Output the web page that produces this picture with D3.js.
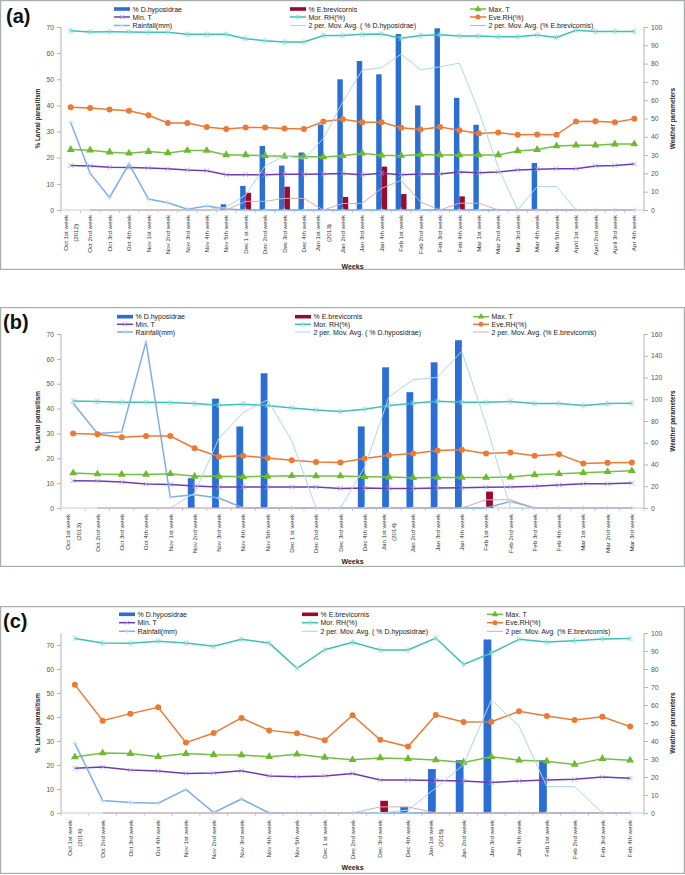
<!DOCTYPE html>
<html>
<head>
<meta charset="utf-8">
<script src="https://cdn.jsdelivr.net/npm/d3@7"></script>
<style>
  body { margin: 0; background: #fff; }
  svg { display: block; }
  text { font-family: "Liberation Sans", Arial, sans-serif; }
</style>
</head>
<body>
<div id="chart"></div>
<script>
// ---- panel (a) : Oct 2012 - Apr 2013 ----
const weeksA = ['Oct 1st week\n(2012)', 'Oct 2nd week', 'Oct 3rd week', 'Oct 4th week', 'Nov 1st week',
  'Nov 2nd week', 'Nov 3rd week', 'Nov 4th week', 'Nov 5th week', 'Dec 1 st week', 'Dec 2nd week',
  'Dec 3rd week', 'Dec 4th week', 'Jan 1st week\n(2013)', 'Jan 2nd week', 'Jan 3rd week', 'Jan 4th week',
  'Feb 1st week', 'Feb 2nd week', 'Feb 3rd week', 'Feb 4th week', 'Mar 1st week', 'Mar 2nd week',
  'Mar 3rd week', 'Mar 4th week', 'Mar 5th week', 'April 1st week', 'April 2nd week', 'April 3rd week',
  'Apr 4th week'];
const dhypA = [0, 0, 0, 0, 0, 0, 0, 0, 2.2, 9.2, 24.5, 17, 22, 32.7, 50, 57, 51.9, 67.3, 40, 69.5, 42.9,
  32.6, 0, 0, 18, 0, 0, 0, 0, 0];
const ebrevA = [0, 0, 0, 0, 0, 0, 0, 0, 0, 6.6, 0, 8.9, 0, 0, 5, 0, 16.6, 6.1, 0, 0, 5.2, 0, 0, 0, 0, 0,
  0, 0, 0, 0];
const minTA = [24.3, 24.1, 23.4, 23.2, 23, 22.6, 21.9, 21.5, 19.3, 19.3, 19.3, 19.5, 19.5, 19.7, 20, 19.3,
  20.1, 19.3, 19.7, 19.7, 20.8, 20.4, 20.8, 21.9, 22.3, 22.6, 22.6, 24.1, 24.3, 25.2];
const maxTA = [33, 32.7, 31.6, 31, 31.9, 31.2, 32.5, 32.5, 30.1, 30.1, 29.6, 29.4, 29.2, 29, 29.6, 31,
  29.9, 29.7, 30.3, 30.1, 30.1, 30.1, 30.1, 32.3, 33, 35, 35.4, 35.4, 36, 36.1];
const morRHA = [98, 97.3, 97.4, 97.3, 97.1, 97.1, 96, 96, 96, 93.6, 92.5, 91.8, 91.8, 95.4, 95.4, 96,
  96.2, 93.8, 95.4, 95.8, 95.1, 95.1, 94.7, 94.7, 95.6, 94.3, 98.2, 97.6, 97.6, 97.6];
const eveRHA = [56.2, 55.7, 54.9, 54.2, 51.8, 47.6, 47.6, 45.3, 44.2, 45.1, 45.1, 44.5, 44.2, 48.4, 49.6,
  48, 48, 44.9, 44, 45.4, 43.6, 41.8, 42.3, 41.1, 41.2, 41.1, 48.4, 48.5, 48, 49.8];
const rainA = [47.8, 20, 6.9, 25.2, 6, 4, 0.4, 2.2, 0.5, 0, 0, 0, 0, 0, 0, 0, 0, 0, 0, 0, 0, 0, 0, 0, 0,
  0, 0, 0, 0, 0];

// ---- panel (b) : Oct 2013 - Mar 2014 ----
const weeksB = ['Oct 1st week\n(2013)', 'Oct 2nd week', 'Oct 3rd week', 'Oct 4th week', 'Nov 1st week',
  'Nov 2nd week', 'Nov 3rd week', 'Nov 4th week', 'Nov 5th week', 'Dec 1 st week', 'Dec 2nd week',
  'Dec 3rd week', 'Dec 4th week', 'Jan 1st week\n(2014)', 'Jan 2nd week', 'Jan 3rd week', 'Jan 4th week',
  'Feb 1st week', 'Feb 2nd week', 'Feb 3rd week', 'Feb 4th week', 'Mar 1st week', 'Mar 2nd week',
  'Mar 3rd week'];
const dhypB = [0, 0, 0, 0, 0, 12, 44, 32.8, 54.2, 0, 0, 0, 32.8, 56.6, 46.6, 58.6, 67.5, 0, 0, 0, 0, 0,
  0, 0];
const ebrevB = [0, 0, 0, 0, 0, 0, 0, 0, 0, 0, 0, 0, 0, 0, 0, 0, 0, 6.6, 0, 0, 0, 0, 0, 0];
const minTB = [25.1, 24.8, 23.9, 22, 21.7, 20.2, 19.3, 19.3, 19.3, 19.3, 19.3, 18, 18.3, 18, 18, 18.3,
  18.7, 19, 19.3, 19.9, 21.1, 22.3, 22.3, 22.9];
const maxTB = [32.1, 31.2, 30.9, 30.9, 31.5, 29.1, 29.1, 28.7, 29.1, 29.7, 29.4, 29.4, 28.7, 28.4, 27.8,
  28.1, 28.1, 28.1, 28.4, 30.6, 31.5, 32.4, 33.3, 34.3];
const morRHB = [98.5, 97.9, 97.2, 97.2, 96.9, 96, 94.5, 95.4, 94.2, 92, 90.2, 88.7, 90.8, 94.2, 96.3,
  98.2, 97.2, 97.2, 97.9, 96, 96, 94.2, 96, 96.3];
const eveRHB = [68.5, 67.9, 65.1, 66.1, 66.1, 55, 47.1, 48, 45.9, 44, 42.2, 41.9, 45.6, 48.6, 50.2, 52.9,
  53.5, 50.2, 51.1, 48, 49.5, 41, 41.6, 41.9];
const rainB = [96.3, 68.5, 70, 152.9, 10.1, 12.2, 9.2, 0, 0, 0, 0, 0, 0, 0, 0, 0, 0, 0, 6.1, 0, 0, 0, 0, 0];

// ---- panel (c) : Oct 2014 - Feb 2015 ----
const weeksC = ['Oct 1st week\n(2014)', 'Oct 2nd week', 'Oct 3rd week', 'Oct 4th week', 'Nov 1st week',
  'Nov 2nd week', 'Nov 3rd week', 'Nov 4th week', 'Nov 5th week', 'Dec 1 st week', 'Dec 2nd week',
  'Dec 3rd week', 'Dec 4th week', 'Jan 1st week\n(2015)', 'Jan 2nd week', 'Jan 3rd week', 'Jan 4th week',
  'Feb 1st week', 'Feb 2nd week', 'Feb 3rd week', 'Feb 4th week'];
const dhypC = [0, 0, 0, 0, 0, 0, 0, 0, 0, 0, 0, 0, 2.5, 18.3, 22, 72.3, 0, 22.1, 0, 0, 0];
const ebrevC = [0, 0, 0, 0, 0, 0, 0, 0, 0, 0, 0, 5.1, 0, 0, 0, 0, 0, 0, 0, 0, 0];
const minTC = [24.8, 25.6, 23.9, 23.3, 22, 22.2, 23.5, 20.6, 20.2, 20.6, 22, 18.3, 18.3, 18.1, 17.8, 16.9,
  17.8, 18.3, 18.7, 20, 19.3];
const maxTC = [31.1, 33.3, 33, 31.3, 33, 32.4, 32.2, 31.3, 32.6, 30.9, 29.6, 30.6, 30.2, 29.4, 28.1, 31.3,
  29.3, 28.7, 27, 30.2, 29.3];
const morRHC = [97, 94.4, 94.3, 95.4, 94.4, 92.6, 96.5, 94.4, 80.4, 90.7, 94.8, 90.6, 90.6, 97.2, 82.6,
  88.9, 96.5, 95, 95.7, 96.7, 96.9];
const eveRHC = [71.3, 51.3, 55.2, 58.7, 39.1, 44.4, 52.8, 45.9, 44.3, 40.4, 54.3, 40.7, 36.9, 54.4, 50.6,
  50.7, 56.5, 53.9, 51.7, 53.5, 48];
const rainC = [38.7, 6.9, 5.9, 5.4, 13.1, 0.2, 7.8, 0, 0, 0, 0, 0, 0, 0, 0, 0, 0, 0, 0, 0, 0];

const leftTicks = [0, 10, 20, 30, 40, 50, 60, 70];

const colors = {
  dhyp: '#2b6fd4',
  ebrev: '#990b2c',
  minT: '#6a3db5',
  morRH: '#3ec1b6',
  maxT: '#74c043',
  eveRH: '#ec7a34',
  rain: '#7daee8',
  avgD: '#acd6f2',
  avgE: '#dcaaad'
};

const svg = d3.select('#chart')
  .append('svg')
  .attr('width', 685)
  .attr('height', 875);

// 2 period moving average, as the spreadsheet trendline does it
const movAvg = (arr) => d3.pairs(arr, (a, b) => (a + b) / 2);

const markerPath = {
  cross: (s) => `M${-s},${-s}L${s},${s}M${-s},${s}L${s},${-s}`,
  plus: (s) => `M${-s},0L${s},0M0,${-s}L0,${s}`,
  star: (s) => `M${-s},${-s}L${s},${s}M${-s},${s}L${s},${-s}M0,${-s * 1.3}L0,${s * 1.3}`
};

const drawMarker = (sel, type, color, size) => {
  if (type === 'circle') {
    sel.append('circle').attr('r', size).attr('fill', color);
  } else if (type === 'triangle') {
    sel.append('path')
      .attr('d', d3.symbol().type(d3.symbolTriangle).size(size * size * 3)())
      .attr('fill', color);
  } else if (type) {
    sel.append('path')
      .attr('d', markerPath[type](size))
      .attr('stroke', color)
      .attr('stroke-width', 0.8)
      .attr('fill', 'none');
  }
};

const drawPanel = (p) => {
  const g = svg.append('g');
  const n = p.weeks.length;

  // frame
  g.append('rect')
    .attr('x', 0.6)
    .attr('y', p.frame[0] + 0.6)
    .attr('width', 683.8)
    .attr('height', p.frame[1] - p.frame[0] - 1.2)
    .attr('fill', 'none')
    .attr('stroke', '#a7afaf')
    .attr('stroke-width', 1.2);

  g.append('text')
    .attr('x', p.tag[0])
    .attr('y', p.tag[1])
    .attr('font-size', 20)
    .attr('font-weight', 'bold')
    .attr('fill', '#111')
    .text(p.label);

  const xb = d3.scaleBand().domain(d3.range(n)).range([61, 644]);
  const bw = xb.bandwidth();
  const cx = (i) => xb(i) + bw / 2;
  const yL = d3.scaleLinear().domain([0, p.leftMax]).range([p.plot[1], p.plot[0]]);
  const yR = d3.scaleLinear().domain([0, p.rightMax]).range([p.plot[1], p.plot[0]]);

  // axes
  const axisColor = '#b4b4b4';
  const left = g.append('g').attr('transform', 'translate(61,0)')
    .call(d3.axisLeft(yL).tickValues(leftTicks).tickSize(4).tickPadding(3));
  const right = g.append('g').attr('transform', 'translate(644,0)')
    .call(d3.axisRight(yR).tickValues(d3.range(0, p.rightMax + 1, p.rightStep)).tickSize(4).tickPadding(3));
  [left, right].forEach((ax) => {
    ax.select('.domain').attr('stroke', axisColor);
    ax.selectAll('.tick line').attr('stroke', axisColor);
    ax.selectAll('.tick text').attr('font-size', 6.8).attr('fill', '#555')
      .attr('font-family', '"Liberation Sans", Arial, sans-serif');
  });
  left.select('.domain').attr('d', `M0,${p.plot[0]}V${p.plot[1]}`);
  right.select('.domain').attr('d', `M0,${p.plot[0]}V${p.plot[1]}`);

  g.append('line')
    .attr('x1', 61).attr('x2', 644)
    .attr('y1', p.plot[1]).attr('y2', p.plot[1])
    .attr('stroke', '#c6cbd3');
  g.selectAll('.xtick')
    .data(d3.range(n + 1))
    .enter()
    .append('line')
    .attr('x1', (d) => 61 + d * bw).attr('x2', (d) => 61 + d * bw)
    .attr('y1', p.plot[1]).attr('y2', p.plot[1] + 3)
    .attr('stroke', '#c6cbd3');

  // week labels, rotated
  const wl = g.selectAll('.week')
    .data(p.weeks)
    .enter()
    .append('g')
    .attr('transform', (d, i) => `translate(${cx(i)},${p.plot[1] + p.labelGap}) rotate(-90)`);
  wl.each(function(d) {
    const lines = d.split('\n');
    const t = d3.select(this);
    const first = t.append('text')
      .attr('text-anchor', 'end')
      .attr('font-size', 6.2)
      .attr('fill', '#333')
      .attr('y', lines.length > 1 ? -3 : 2.2)
      .text(lines[0]);
    if (lines.length > 1) {
      const w = first.node().getComputedTextLength();
      t.append('text')
        .attr('text-anchor', 'middle')
        .attr('font-size', 6.2)
        .attr('fill', '#333')
        .attr('x', -w / 2)
        .attr('y', 7.5)
        .text(lines[1]);
    }
  });

  g.append('text')
    .attr('x', 352.5)
    .attr('y', p.weeksY)
    .attr('text-anchor', 'middle')
    .attr('font-size', 7)
    .attr('font-weight', 'bold')
    .attr('fill', '#222')
    .text('Weeks');
  const midY = (p.plot[0] + p.plot[1]) / 2;
  g.append('text')
    .attr('transform', `translate(40,${midY}) rotate(-90)`)
    .attr('text-anchor', 'middle')
    .attr('font-size', 6.4)
    .attr('font-weight', 'bold')
    .attr('fill', '#222')
    .text('% Larval parasitism');
  g.append('text')
    .attr('transform', `translate(675,${midY}) rotate(-90)`)
    .attr('text-anchor', 'middle')
    .attr('font-size', 6.4)
    .attr('font-weight', 'bold')
    .attr('fill', '#222')
    .text('Weather parameters');

  // bars
  const barW = bw * 0.28;
  g.selectAll('.bar-d')
    .data(p.dhyp)
    .enter()
    .append('rect')
    .attr('x', (d, i) => cx(i) - barW)
    .attr('y', (d) => yL(d))
    .attr('width', barW)
    .attr('height', (d) => yL(0) - yL(d))
    .attr('fill', colors.dhyp);
  g.selectAll('.bar-e')
    .data(p.ebrev)
    .enter()
    .append('rect')
    .attr('x', (d, i) => cx(i))
    .attr('y', (d) => yL(d))
    .attr('width', barW)
    .attr('height', (d) => yL(0) - yL(d))
    .attr('fill', colors.ebrev);

  // lines
  const series = [
    { values: p.minT, scale: yR, color: colors.minT, w: 1.5, marker: 'cross', mcolor: '#a79ae0', ms: 2.4 },
    { values: p.morRH, scale: yR, color: colors.morRH, w: 1.5, marker: 'star', mcolor: '#8fded6', ms: 2.4 },
    { values: p.rain, scale: yR, color: colors.rain, w: 1.5, marker: 'plus', mcolor: '#b9d5f5', ms: 2.6 },
    { values: p.maxT, scale: yR, color: colors.maxT, w: 1.5, marker: 'triangle', mcolor: '#6dba2f', ms: 3 },
    { values: p.eveRH, scale: yR, color: colors.eveRH, w: 1.5, marker: 'circle', mcolor: colors.eveRH, ms: 3 },
    { values: movAvg(p.dhyp), offset: 1, scale: yL, color: colors.avgD, w: 1 },
    { values: movAvg(p.ebrev), offset: 1, scale: yL, color: colors.avgE, w: 1 }
  ];
  series.forEach((s) => {
    const off = s.offset || 0;
    const line = d3.line()
      .x((d, i) => cx(i + off))
      .y((d) => s.scale(d));
    g.append('path')
      .attr('d', line(s.values))
      .attr('fill', 'none')
      .attr('stroke', s.color)
      .attr('stroke-width', s.w);
    if (s.marker) {
      g.selectAll(null)
        .data(s.values)
        .enter()
        .append('g')
        .attr('transform', (d, i) => `translate(${cx(i + off)},${s.scale(d)})`)
        .each(function() { drawMarker(d3.select(this), s.marker, s.mcolor, s.ms); });
    }
  });

  // legend
  const legend = [
    { name: '% D.hyposidrae', bar: colors.dhyp },
    { name: '% E.brevicornis', bar: colors.ebrev },
    { name: 'Max. T', color: colors.maxT, marker: 'triangle', mcolor: '#6dba2f', ms: 2.5 },
    { name: 'Min. T', color: colors.minT, marker: 'cross', mcolor: '#a79ae0', ms: 2 },
    { name: 'Mor. RH(%)', color: colors.morRH, marker: 'star', mcolor: '#8fded6', ms: 2 },
    { name: 'Eve.RH(%)', color: colors.eveRH, marker: 'circle', mcolor: colors.eveRH, ms: 2.5 },
    { name: 'Rainfall(mm)', color: colors.rain, marker: 'plus', mcolor: '#b9d5f5', ms: 2.2 },
    { name: '2 per. Mov. Avg. ( % D.hyposidrae)', color: colors.avgD, thin: true },
    { name: '2 per. Mov. Avg. (% E.brevicornis)', color: colors.avgE, thin: true }
  ];
  legend.forEach((d, i) => {
    const col = i % 3;
    const row = Math.floor(i / 3);
    const x0 = p.legX[col];
    const y0 = p.legY[row];
    const item = g.append('g').attr('transform', `translate(${x0},${y0})`);
    if (d.bar) {
      item.append('rect').attr('x', 0).attr('y', -1.8).attr('width', 16).attr('height', 3.6).attr('fill', d.bar);
    } else {
      item.append('line').attr('x1', 0).attr('x2', 16).attr('y1', 0).attr('y2', 0)
        .attr('stroke', d.color).attr('stroke-width', d.thin ? 1 : 1.5);
      if (d.marker) {
        drawMarker(item.append('g').attr('transform', 'translate(8,0)'), d.marker, d.mcolor, d.ms);
      }
    }
    item.append('text')
      .attr('x', 18.5)
      .attr('y', 2.5)
      .attr('font-size', 7)
      .attr('fill', '#222')
      .text(d.name);
  });
};

drawPanel({
  label: '(a)', tag: [6, 23], frame: [0, 270], plot: [27, 210], weeksY: 268.5, labelGap: 5,
  leftMax: 70, rightMax: 100, rightStep: 10,
  legX: [114, 290, 470], legY: [9, 17, 25.5],
  weeks: weeksA, dhyp: dhypA, ebrev: ebrevA,
  minT: minTA, maxT: maxTA, morRH: morRHA, eveRH: eveRHA, rain: rainA
});

drawPanel({
  label: '(b)', tag: [3, 329], frame: [307, 567], plot: [334, 508], weeksY: 563.5, labelGap: 6,
  leftMax: 70, rightMax: 160, rightStep: 20,
  legX: [117, 295, 473], legY: [316.7, 324.3, 332],
  weeks: weeksB, dhyp: dhypB, ebrev: ebrevB,
  minT: minTB, maxT: maxTB, morRH: morRHB, eveRH: eveRHB, rain: rainB
});

drawPanel({
  label: '(c)', tag: [3, 628], frame: [606, 874], plot: [633, 813], weeksY: 870, labelGap: 7,
  leftMax: 75, rightMax: 100, rightStep: 10,
  legX: [119, 302, 487], legY: [614.3, 622.7, 631.3],
  weeks: weeksC, dhyp: dhypC, ebrev: ebrevC,
  minT: minTC, maxT: maxTC, morRH: morRHC, eveRH: eveRHC, rain: rainC
});
</script>
</body>
</html>
